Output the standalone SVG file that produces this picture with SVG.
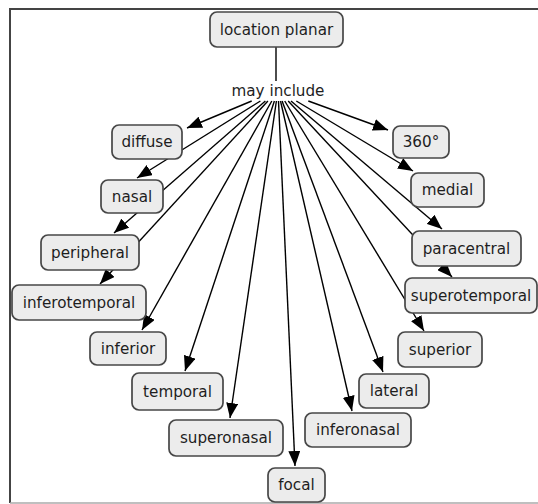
<svg xmlns="http://www.w3.org/2000/svg" width="538" height="504" viewBox="0 0 538 504">
<defs>
<marker id="ah" markerUnits="userSpaceOnUse" markerWidth="16" markerHeight="12" refX="15" refY="6" orient="auto">
<path d="M0,0 L15,6 L0,12 z" fill="#000"/>
</marker>
<style>
.n rect{fill:#ececec;stroke:#474747;stroke-width:1.7}
text{font-family:"DejaVu Sans","Liberation Sans",sans-serif;font-size:15.2px;fill:#1e1e1e;text-anchor:middle}
#connectors line{stroke:#000;stroke-width:1.4}
#connectors .a{marker-end:url(#ah)}
</style>
</defs>
<rect width="538" height="504" fill="#fff"/>
<path d="M10,503 L10,9 L538,9" fill="none" stroke="#444" stroke-width="2"/>
<line x1="10" y1="503" x2="538" y2="503" stroke="#aaa" stroke-width="1.5"/>
<g id="connectors">
<line x1="276" y1="47" x2="276" y2="81"/>
<line class="a" x1="251.7" y1="101" x2="187" y2="128"/>
<line class="a" x1="260.4" y1="101" x2="137" y2="178"/>
<line class="a" x1="265.4" y1="101" x2="114" y2="233"/>
<line class="a" x1="267.9" y1="101" x2="100" y2="284"/>
<line class="a" x1="271.8" y1="101" x2="142" y2="330"/>
<line class="a" x1="274.4" y1="101" x2="185" y2="371"/>
<line class="a" x1="276.4" y1="101" x2="230" y2="418"/>
<line class="a" x1="278.5" y1="101" x2="295" y2="466"/>
<line class="a" x1="280.5" y1="101" x2="352" y2="411"/>
<line class="a" x1="282.1" y1="101" x2="383" y2="372"/>
<line class="a" x1="284.7" y1="101" x2="424" y2="331"/>
<line class="a" x1="288.2" y1="101" x2="452" y2="277"/>
<line class="a" x1="291" y1="101" x2="442" y2="229"/>
<line class="a" x1="296.3" y1="101" x2="413" y2="171"/>
<line class="a" x1="308.3" y1="101" x2="388" y2="130"/>
</g>
<g id="label-may-include"><text x="278" y="96">may include</text></g>
<g id="location-planar" class="n"><rect x="210" y="12" width="133" height="35" rx="7"/><text x="276.5" y="34.5">location planar</text></g>
<g id="diffuse" class="n"><rect x="112" y="125" width="70" height="34" rx="7"/><text x="147" y="147">diffuse</text></g>
<g id="n360" class="n"><rect x="393" y="126" width="56" height="32" rx="7"/><text x="421" y="147">360°</text></g>
<g id="nasal" class="n"><rect x="101" y="180" width="62" height="33" rx="7"/><text x="132" y="201.5">nasal</text></g>
<g id="medial" class="n"><rect x="411" y="173" width="73" height="34" rx="7"/><text x="447.5" y="195">medial</text></g>
<g id="peripheral" class="n"><rect x="41" y="235" width="98" height="35" rx="7"/><text x="90" y="257.5">peripheral</text></g>
<g id="paracentral" class="n"><rect x="412" y="231" width="109" height="35" rx="7"/><text x="466.5" y="253.5">paracentral</text></g>
<g id="inferotemporal" class="n"><rect x="12" y="285" width="134" height="35" rx="7"/><text x="79" y="307.5">inferotemporal</text></g>
<g id="superotemporal" class="n"><rect x="405" y="278" width="132" height="35" rx="7"/><text x="471" y="300.5">superotemporal</text></g>
<g id="inferior" class="n"><rect x="90" y="332" width="76" height="33" rx="7"/><text x="128" y="353.5">inferior</text></g>
<g id="superior" class="n"><rect x="398" y="332" width="84" height="35" rx="7"/><text x="440" y="354.5">superior</text></g>
<g id="temporal" class="n"><rect x="132" y="373" width="91" height="37" rx="7"/><text x="177.5" y="396.5">temporal</text></g>
<g id="lateral" class="n"><rect x="359" y="374" width="70" height="34" rx="7"/><text x="394" y="396">lateral</text></g>
<g id="superonasal" class="n"><rect x="169" y="420" width="114" height="36" rx="7"/><text x="226" y="443">superonasal</text></g>
<g id="inferonasal" class="n"><rect x="305" y="413" width="106" height="34" rx="7"/><text x="358" y="435">inferonasal</text></g>
<g id="focal" class="n"><rect x="268" y="468" width="57" height="34" rx="7"/><text x="296.5" y="490">focal</text></g>
</svg>
